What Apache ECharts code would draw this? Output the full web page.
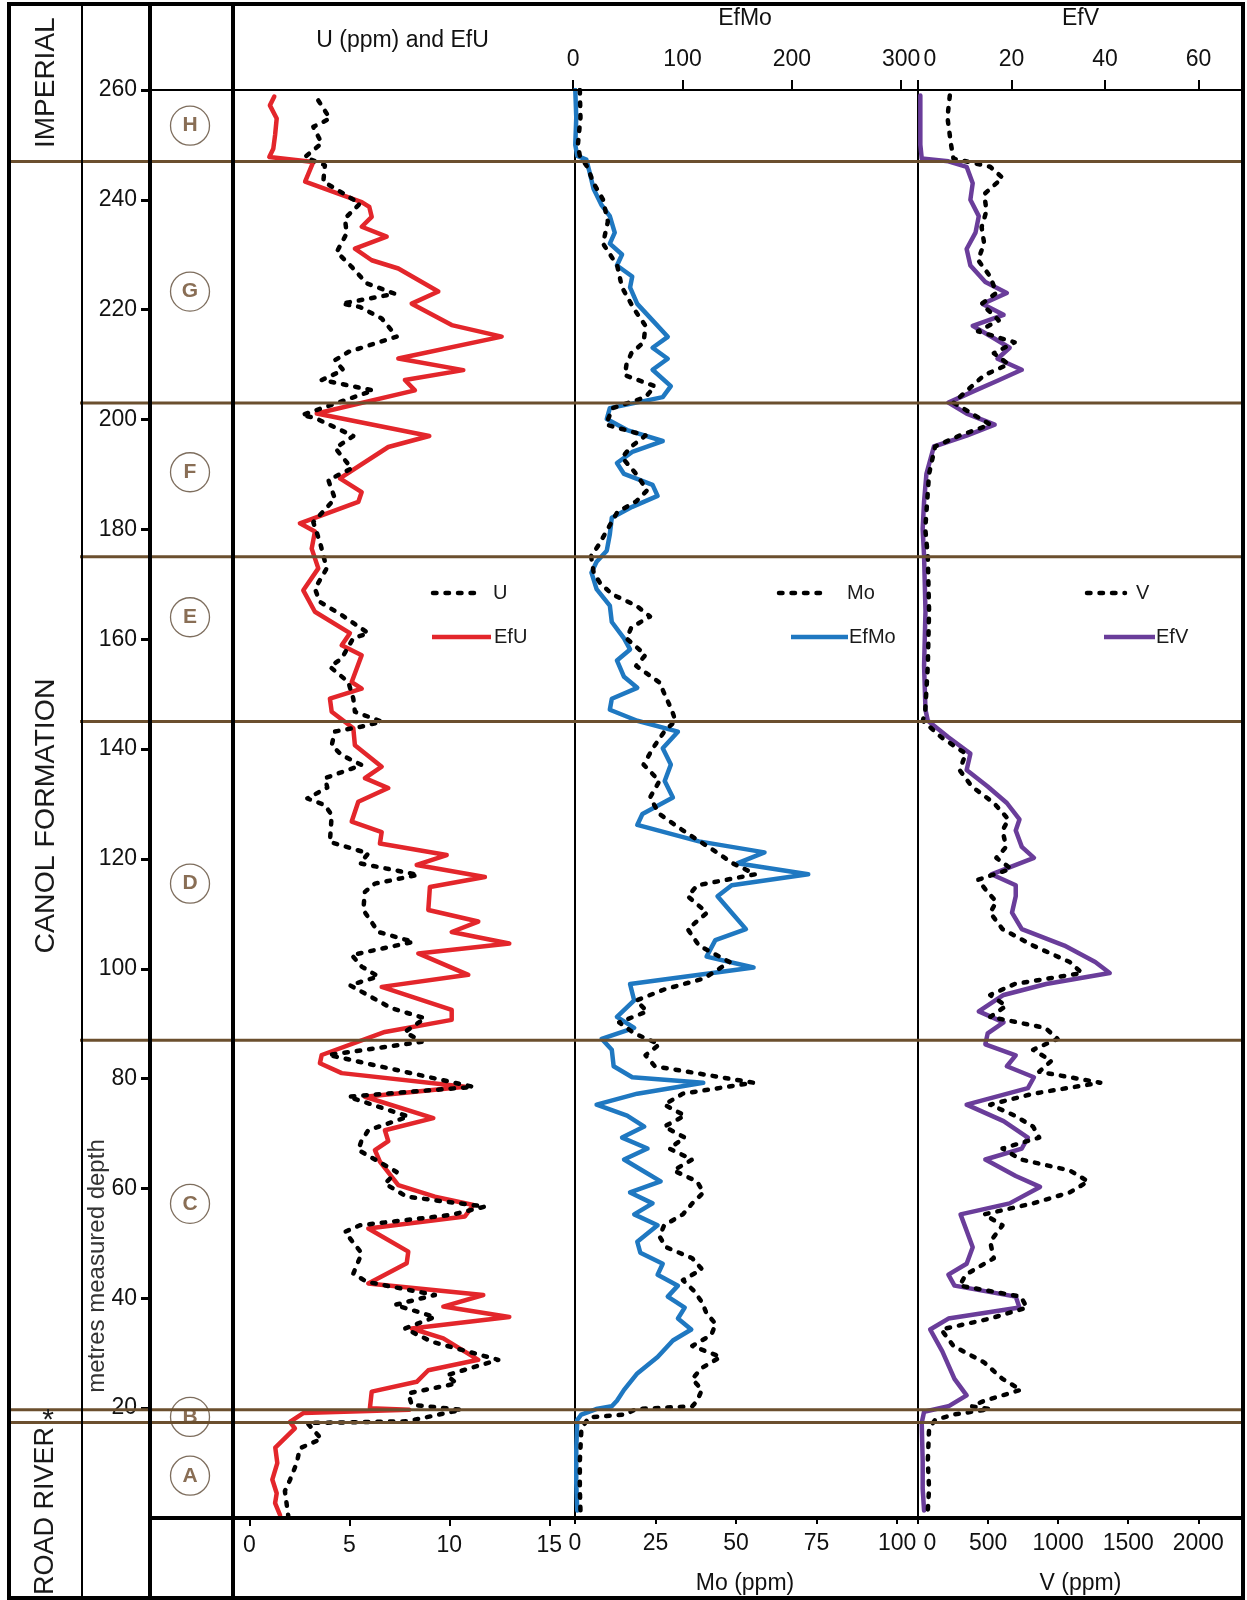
<!DOCTYPE html>
<html><head><meta charset="utf-8">
<script src="https://cdn.jsdelivr.net/npm/echarts@6/dist/echarts.min.js"></script>
<style>html,body{margin:0;padding:0;background:#fff}#c{width:1247px;height:1600px}</style>
</head><body><div id="c"></div>
<script>
// ---------- data (depth in metres, value) ----------
const depthTicks = [20,40,60,80,100,120,140,160,180,200,220,240,260];
const zoneNames = ['A','B','C','D','E','F','G','H'];
const zoneCenters = [7.7,18.4,57.2,115.5,164,190.4,223.3,253.5];
const zoneBoundsFull = [17.4,19.7,247];      // lines crossing the formation column
const zoneBoundsInner = [87,145,175,203];    // lines starting at the depth column
const uTicks = [0,5,10,15];
const moTicks = [0,25,50,75,100];
const vTicks = [0,500,1000,1500,2000];
const efMoTicks = [0,100,200,300];
const efVTicks = [0,20,40,60];

const efU = [[258.8,1.25],[257.2,1.03],[254.8,1.37],[251.8,1.29],[249.3,1.2],[247.8,1.0],[246.9,3.2],[243.3,2.79],[239.6,5.62],[238.7,6.0],[236.9,6.12],[235.1,5.62],[233.3,6.87],[231.1,5.28],[229.0,6.12],[227.5,7.45],[223.3,9.45],[221.1,8.12],[217.2,10.12],[215.1,12.62],[211.1,7.45],[209.0,10.7],[207.2,7.78],[205.3,8.28],[201.1,3.37],[197.0,9.0],[195.0,6.95],[189.3,4.53],[186.8,5.62],[185.0,5.45],[181.1,2.53],[179.6,3.28],[176.5,3.12],[172.9,3.45],[168.9,2.7],[165.0,3.28],[161.1,5.03],[158.9,4.62],[157.1,5.62],[152.2,5.12],[151.0,5.62],[149.2,4.03],[146.8,4.12],[143.8,5.2],[140.7,5.28],[136.8,6.62],[134.7,5.78],[132.9,6.95],[130.4,5.45],[126.8,5.12],[124.9,6.62],[122.8,6.53],[120.7,9.87],[118.9,8.37],[116.7,11.78],[114.9,9.03],[110.7,8.95],[108.6,11.45],[106.7,10.12],[104.6,13.0],[102.8,8.45],[98.9,10.95],[96.7,6.62],[92.5,10.12],[90.7,10.12],[88.5,6.78],[84.3,3.62],[82.8,3.53],[81.0,4.62],[78.5,10.78],[76.7,5.78],[72.8,9.2],[70.6,6.78],[68.6,6.95],[67.0,6.28],[64.9,6.53],[60.6,7.45],[58.5,9.28],[57.0,11.2],[54.9,10.78],[52.7,5.95],[48.5,7.95],[46.4,7.87],[42.7,5.95],[40.6,11.7],[38.5,9.7],[36.6,13.0],[34.5,8.12],[32.7,9.7],[28.8,11.45],[26.9,8.95],[24.8,8.37],[23.0,6.12],[20.0,6.03],[19.7,8.0],[19.1,2.7],[17.5,2.03],[16.3,2.28],[12.8,1.3],[10.0,1.4],[7.0,1.15],[4.5,1.37],[2.7,1.29],[0.5,1.54]];

const uPpm = [[258.1,3.45],[254.8,4.03],[253.3,3.2],[250.3,3.62],[247.8,2.78],[246.3,3.78],[243.3,3.7],[242.1,4.28],[239.3,5.53],[236.6,4.78],[233.9,4.87],[230.5,4.37],[227.8,5.12],[224.8,5.87],[222.9,7.28],[221.1,4.62],[220.5,5.53],[218.4,6.62],[215.1,7.37],[212.3,4.95],[210.8,4.28],[209.0,4.7],[207.2,3.62],[205.3,6.2],[200.8,2.62],[200.3,3.28],[197.0,5.2],[194.8,4.3],[191.1,5.12],[189.0,3.95],[185.6,4.28],[181.3,3.2],[177.7,3.53],[172.9,3.87],[169.2,3.28],[166.8,3.53],[164.4,4.62],[161.1,5.95],[160.2,5.2],[156.5,4.62],[155.0,4.03],[152.2,4.95],[149.2,5.2],[146.8,5.28],[145.0,6.62],[144.1,5.62],[143.2,4.28],[140.7,4.12],[138.9,4.62],[137.1,5.62],[134.7,3.78],[133.0,3.9],[131.0,2.9],[129.8,3.78],[128.0,4.12],[123.1,4.03],[121.0,5.95],[119.2,5.53],[117.1,8.45],[115.5,6.28],[114.0,5.78],[110.7,5.7],[106.7,6.45],[104.9,8.2],[102.5,5.12],[100.4,5.62],[98.6,6.45],[97.0,5.03],[92.8,7.12],[91.0,8.78],[88.5,7.78],[86.7,8.62],[84.3,3.95],[78.5,11.2],[76.7,4.95],[75.5,5.95],[73.1,7.95],[70.6,5.95],[68.6,5.6],[67.0,5.45],[65.8,6.03],[63.0,7.37],[60.9,6.78],[58.5,7.87],[56.7,11.78],[55.2,10.12],[53.3,5.53],[52.1,4.78],[48.2,5.62],[44.5,5.2],[43.0,5.87],[40.6,9.28],[38.8,7.28],[36.6,9.28],[34.5,7.78],[32.1,9.12],[28.8,12.45],[26.0,9.87],[24.5,10.37],[22.7,7.95],[20.6,8.12],[19.7,10.6],[17.6,7.9],[17.3,2.9],[14.4,3.6],[12.7,2.53],[10.0,2.37],[6.9,2.03],[4.9,1.78],[0.3,1.95]];

const efMo = [[260,1.9],[255,2.8],[250,1.9],[248,3.7],[247.3,12],[245,15],[242,18.6],[239,26],[237,33.5],[234,38],[232,33.5],[230,44.7],[228,40],[226,54],[224,52],[221,58.6],[218,72.6],[215,86.5],[213,72.6],[211,86.5],[209,72.6],[206,89.3],[204,81.9],[202,33.5],[200,30.7],[198,49.3],[196,81.9],[194,54],[192,40],[190,46.5],[188,72.6],[186,77.2],[184,54],[182,35.3],[179,33.5],[176,30.7],[174,21.4],[172,16.7],[169,21.4],[166,33.5],[163,35.3],[160,46.5],[158,52],[156,40],[153,46.5],[151,58.6],[149,35.3],[147,33.5],[145,58.6],[143,95.8],[140,81.9],[137,89.3],[134,83.7],[131,91.2],[128,63.3],[126,58.6],[123,115],[121,175],[119,150],[117,215],[115,145],[113,132],[110,145],[107,158],[105,130],[102,122],[100,165],[97,52],[94,55.8],[91,40],[89,55.8],[87,26],[85,35.3],[82,37],[80,54],[79,119],[77,58.6],[75,21.4],[73,49.3],[71,65],[69,44.7],[67,68],[65,46.5],[63,63.3],[61,80],[59,52],[57,72.6],[55,55.8],[53,77.2],[50,58.6],[48,61.4],[46,81.9],[44,77.2],[42,95.8],[40,86.5],[38,102],[36,95.8],[34,108],[32,91.2],[29,77.2],[26,58.6],[23,46.5],[21,40],[20,35.3],[19.5,21],[18.5,7.4],[17.5,3.7],[12,2.8],[6,2.8],[1,3.7]];

const moPpm = [[260,1.5],[255,1.7],[250,0.9],[248,1.5],[246,3.8],[243,5.8],[240,8.7],[236,10.2],[232,8.7],[228,13.1],[224,14.6],[220,18.4],[217,21.9],[214,21.3],[212,17.5],[210,16],[208,15.5],[206,24.8],[204,21.9],[202,11.7],[199,9.6],[197,21.9],[195,17.5],[193,14.6],[190,19],[187,22.4],[185,19],[183,13.1],[180,10.2],[177,7.3],[175,5],[172,5.8],[170,7.9],[168,11.7],[166,19],[164,23.3],[162,17.5],[160,16],[157,21.9],[155,19],[152,26.2],[150,27.7],[147,30],[145,31.2],[143,27.7],[140,24.2],[137,21.3],[134,26.2],[131,23.3],[128,26.2],[125,33.5],[121,44],[119,49],[117,56],[115,38],[113,35],[110,41],[107,35],[104,38.5],[101,48],[98,40],[96,27.7],[94,19],[92,22.4],[90,13.7],[88,18.4],[86,26.2],[84,21.9],[82,24.8],[80,45.2],[79,55.4],[77,33.5],[75,27.7],[73,34.1],[71,27.7],[69,34.1],[67,29.2],[65,36.4],[63,30.6],[61,37.9],[59,39.9],[57,36.4],[55,33.5],[53,27.7],[51,26.2],[49,28.3],[47,36.4],[45,39.4],[43,33.5],[41,37],[39,39.4],[37,40.8],[35,43.7],[33,42.3],[31,36.4],[29,45.2],[27,39.4],[25,36.4],[23,39.4],[21,37.9],[20,36.4],[19.5,19],[18.5,15.5],[18,4.4],[17,3.2],[16,2],[10,1.5],[5,1.5],[1,1.7]];

const efV = [[259,0.5],[250,0.5],[247.5,0.8],[247,6.5],[246,10.4],[243,11.7],[240,11.2],[237,13],[234,12.3],[231,10.4],[228,11.2],[225,14.4],[223,19],[221,13.8],[219,18.3],[217,11.7],[215,15.7],[213,19.6],[211,17],[209,22.2],[207,17],[205,11.7],[203,6.5],[201,10.4],[199,16.4],[197,10.4],[195,3.4],[190,1.8],[185,1.3],[180,1.0],[175,1.3],[165,1.6],[155,1.3],[147,1.6],[145,2.1],[142,6.5],[139,11.2],[136,10.4],[133,14.9],[130,19],[127,21.7],[125,20.9],[122,22.2],[120,24.8],[117,15.7],[115,20.9],[113,20.9],[110,20.1],[107,22.2],[104,31.3],[101,37.9],[99,41],[97,27.4],[95,18.3],[92,13],[90,18.3],[88,14.9],[86,14.4],[84,20.9],[82,19],[80,24.8],[78,23.5],[75,10.4],[72,18.3],[69,23.5],[67,22.2],[65,14.4],[62,20.9],[60,26.1],[57,19.6],[55,9.1],[52,10.4],[49,11.7],[46,10.4],[44,6.5],[42,7.8],[40,20.9],[38,21.7],[36,6.5],[34,2.6],[30,5.2],[25,7.8],[22,10.4],[20,6.5],[19,1.3],[17,0.8],[10,1],[5,1],[1,1.3]];

const vPpm = [[259,227],[255,210],[250,236],[247.5,253],[246,515],[244,603],[241,472],[238,489],[235,454],[232,472],[229,428],[226,515],[223,559],[221,454],[218,576],[216,428],[214,690],[212,541],[210,646],[208,472],[205,341],[203,253],[201,384],[199,515],[197,297],[195,122],[190,79],[180,52],[175,70],[165,79],[155,70],[147,52],[145,35],[142,166],[139,341],[136,297],[133,384],[130,541],[127,646],[125,603],[122,629],[120,559],[118,664],[116,428],[114,489],[112,559],[110,515],[107,603],[104,821],[101,1083],[99,1170],[97,690],[95,515],[93,629],[91,515],[89,908],[87,996],[85,821],[83,952],[81,865],[79,1301],[77,821],[75,515],[73,690],[71,821],[69,865],[67,603],[65,734],[63,1083],[61,1214],[59,1083],[57,821],[55,472],[53,603],[50,515],[47,541],[44,341],[42,297],[40,734],[38,777],[36,515],[34,166],[31,253],[28,472],[25,603],[23,734],[21,472],[20,384],[19.5,515],[18.5,253],[17.5,122],[16,79],[10,70],[5,79],[1,70]];

// ---------- chart ----------
const FONT = '"Liberation Sans", Arial, sans-serif';
const BROWN = '#6b4f2e';
const chart = echarts.init(document.getElementById('c'), null, {renderer:'canvas'});
const toXY = arr => arr.map(p => [p[1], p[0]]);
function lineSeries(name, data, xi, yi, color, dashed, z) {
  return {type:'line', name, data: toXY(data), xAxisIndex: xi, yAxisIndex: yi,
    showSymbol:false, symbol:'none', silent:true, z,
    lineStyle:{color, width: 4.5, type: dashed ? [3.5,9] : 'solid', cap:'round', join:'round'}};
}
const lbl = {fontFamily: FONT, fontSize: 23, color: '#111'};
function xAx(grid, pos, min, max, ticks, name, gap, shiftZero) {
  return {gridIndex: grid, type:'value', position: pos, min, max,
    name, nameLocation:'middle', nameGap: gap,
    nameTextStyle:{fontFamily: FONT, fontSize: 23, color:'#111'},
    axisLine:{show:false}, splitLine:{show:false},
    axisTick:{show:true, customValues: ticks, length: pos==='top'?10:8, lineStyle:{color:'#000', width:2}},
    axisLabel:Object.assign({show:true, customValues: ticks, margin: pos==='top'?19:16,
      formatter: v => (shiftZero && v===0) ? '{z|0}' : String(v),
      rich:{z:{fontFamily: FONT, fontSize:23, color:'#111', padding:[0,0,0,24]}}}, lbl)};
}
const TOP = 90, H = 1428;
const option = {
  animation:false,
  textStyle:{fontFamily: FONT},
  grid:[
    {left:150, top:TOP, width:83, height:H},
    {left:233, top:TOP, width:339, height:H},
    {left:572, top:TOP, width:346, height:H},
    {left:918, top:TOP, width:325, height:H}
  ],
  xAxis:[
    {gridIndex:0, type:'value', min:0, max:1, show:false},
    xAx(1,'bottom',-0.815,16.135,uTicks,'',0,false),
    xAx(2,'bottom',-0.93,106.5,moTicks,'Mo (ppm)',56,false),
    xAx(2,'top',-1.1,315.4,efMoTicks,'EfMo',60,false),
    xAx(3,'bottom',0,2319,vTicks,'V (ppm)',56,true),
    xAx(3,'top',0,69.5,efVTicks,'EfV',60,true),
    {gridIndex:1, type:'value', position:'top', min:0, max:1, name:'U (ppm) and EfU', nameLocation:'middle', nameGap:38,
     nameTextStyle:{fontFamily: FONT, fontSize: 23, color:'#111'},
     axisLine:{show:false}, axisTick:{show:false}, axisLabel:{show:false}, splitLine:{show:false}}
  ],
  yAxis:[
    {gridIndex:0, type:'value', min:0, max:260, position:'left',
     axisLine:{show:true, lineStyle:{color:'#000', width:4}},
     axisTick:{show:true, customValues: depthTicks, length:9, lineStyle:{color:'#000', width:3}},
     axisLabel:Object.assign({customValues: depthTicks, margin:13}, lbl),
     splitLine:{show:false}},
    {gridIndex:1, type:'value', min:0, max:260, show:false},
    {gridIndex:2, type:'value', min:0, max:260, axisLine:{show:true, lineStyle:{color:'#000', width:2}}, axisTick:{show:false}, axisLabel:{show:false}, splitLine:{show:false}},
    {gridIndex:3, type:'value', min:0, max:260, axisLine:{show:true, lineStyle:{color:'#000', width:2}}, axisTick:{show:false}, axisLabel:{show:false}, splitLine:{show:false}}
  ],
  series:[
    lineSeries('EfU', efU, 1, 1, '#e3262b', false, 2),
    lineSeries('U', uPpm, 1, 1, '#000', true, 3),
    lineSeries('EfMo', efMo, 3, 2, '#1f78c1', false, 2),
    lineSeries('Mo', moPpm, 2, 2, '#000', true, 3),
    lineSeries('EfV', efV, 5, 3, '#6a3d9a', false, 2),
    lineSeries('V', vPpm, 4, 3, '#000', true, 3),
    {type:'scatter', xAxisIndex:0, yAxisIndex:0, silent:true, z:5,
     data: zoneCenters.map((d,i) => [0.482, d, zoneNames[i]]),
     symbol:'circle', symbolSize:39,
     itemStyle:{color:'#fff', borderColor:'#5e4a36', borderWidth:1.3},
     label:{show:true, position:'inside', formatter: p => p.data[2], fontFamily: FONT, fontSize:21, fontWeight:'bold', color:'#6b4a2a'}}
  ]
};
chart.setOption(option);

// ---------- frame, zone lines, labels, legends ----------
const yOf = d => chart.convertToPixel({yAxisIndex:0}, d);
const RIGHT = 1243, FTOP = 4, FBOT = 1598;
const g = [];
const ln = (x1,y1,x2,y2,w,c,extra) => g.push(Object.assign({type:'line', silent:true, z:20,
  shape:{x1,y1,x2,y2}, style:Object.assign({stroke:c||'#000', lineWidth:w}, extra||{})}));
const tx = (text,x,y,size,opts) => g.push(Object.assign({type:'text', silent:true, z:21, x, y,
  style:{text, fill:'#1a1a1a', fontFamily:FONT, fontSize:size, align:'center', verticalAlign:'middle'}}, opts||{}));

zoneBoundsFull.forEach(d => ln(10, yOf(d), RIGHT, yOf(d), 3, BROWN));
zoneBoundsInner.forEach(d => ln(80, yOf(d), RIGHT, yOf(d), 3, BROWN));
g.push({type:'rect', silent:true, z:22, shape:{x:9, y:FTOP, width:RIGHT-9, height:FBOT-FTOP}, style:{fill:'none', stroke:'#000', lineWidth:4}});
ln(82, FTOP, 82, FBOT, 2);
ln(150, FTOP, 150, FBOT, 4);
ln(233, FTOP, 233, FBOT, 4);
ln(150, TOP, RIGHT, TOP, 2);
ln(150, TOP+H, RIGHT, TOP+H, 4);

// formation names (vertical)
const ROT = Math.PI/2;
const hg = yOf(247), bTop = yOf(19.7);
tx('IMPERIAL', 46, (FTOP + hg)/2, 28, {rotation: ROT});
tx('CANOL FORMATION', 46, 816, 28.5, {rotation: ROT});
g.push({type:'text', silent:true, z:21, x:46, y:1427, rotation: ROT,
  style:{text:'ROAD RIVER', fill:'#1a1a1a', fontFamily:FONT, fontSize:27, align:'right', verticalAlign:'middle'}});
tx('*', 48, (yOf(17.4)+bTop)/2 + 5, 30, {});
g.push({type:'text', silent:true, z:21, x:97, y:1266, rotation: ROT,
  style:{text:'metres measured depth', fill:'#333', fontFamily:FONT, fontSize:24, align:'center', verticalAlign:'middle'}});

// legends
function legend(x1, x2, y, text, tx0, color, dashed) {
  ln(x1, y, x2, y, 4.5, color, dashed ? {lineDash:[3.5,9], lineCap:'round'} : {lineCap:'butt'});
  g.push({type:'text', silent:true, z:21, x:tx0, y, style:{text, fill:'#1a1a1a', fontFamily:FONT, fontSize:20, align:'left', verticalAlign:'middle'}});
}
legend(433, 481, 593, 'U', 493, '#000', true);
legend(432, 491, 637, 'EfU', 494, '#e3262b', false);
legend(779, 829, 593, 'Mo', 847, '#000', true);
legend(791, 848, 637, 'EfMo', 849, '#1f78c1', false);
legend(1087, 1125, 593, 'V', 1136, '#000', true);
legend(1104, 1155, 637, 'EfV', 1156, '#6a3d9a', false);

chart.setOption({graphic: g});
</script>
</body></html>
